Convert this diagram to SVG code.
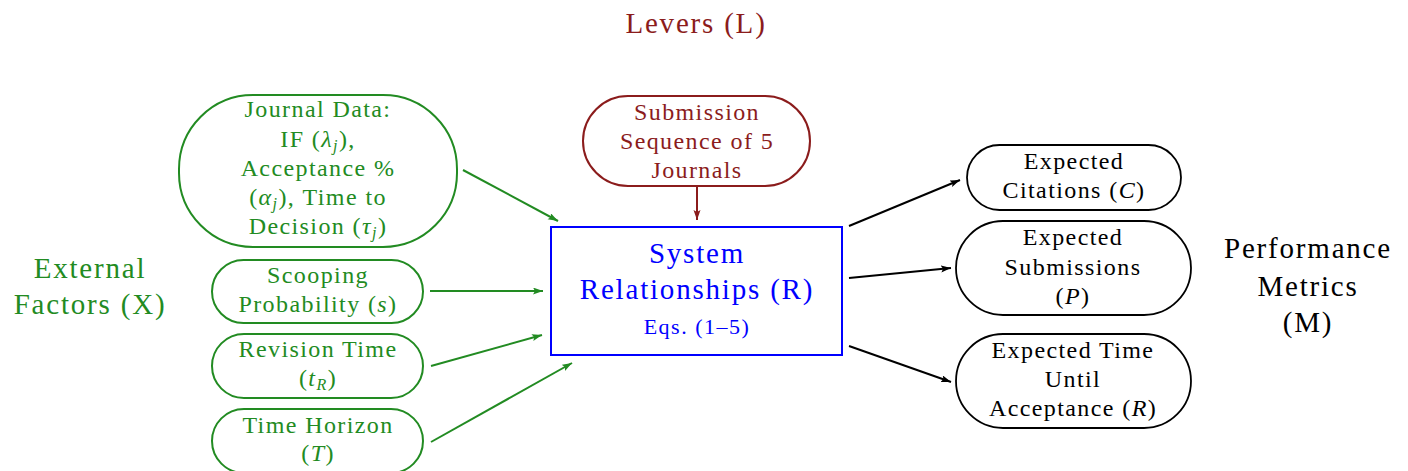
<svg xmlns="http://www.w3.org/2000/svg" width="1408" height="471" viewBox="0 0 1408 471">
<style>
text{font-family:"Liberation Serif","Times New Roman",serif;text-anchor:middle}
.big{font-size:29px;letter-spacing:1.8px}
.nt{font-size:24px;letter-spacing:1.4px}
.eq{font-size:22px;letter-spacing:1.5px}
.g{fill:#228b22}
.r{fill:#8b1c1c}
.b{fill:#0000ff}
.k{fill:#000}
.i{font-style:italic}
.sub{font-size:16px;font-style:italic}
.ng{fill:#fff;stroke:#228b22;stroke-width:2}
.nr{fill:#fff;stroke:#8b1c1c;stroke-width:2}
.nk{fill:#fff;stroke:#000;stroke-width:1.8}
.cg{stroke:#228b22;stroke-width:2;fill:none;marker-end:url(#ag)}
.cr{stroke:#8b1c1c;stroke-width:2;fill:none;marker-end:url(#ar)}
.ck{stroke:#000;stroke-width:2;fill:none;marker-end:url(#ak)}
</style>
<defs>
<marker id="ag" markerUnits="userSpaceOnUse" markerWidth="12" markerHeight="8" refX="10" refY="3.5" orient="auto"><path d="M0,0 L10,3.5 L0,7 L2,3.5 z" fill="#228b22"/></marker>
<marker id="ar" markerUnits="userSpaceOnUse" markerWidth="12" markerHeight="8" refX="10" refY="3.5" orient="auto"><path d="M0,0 L10,3.5 L0,7 L2,3.5 z" fill="#8b1c1c"/></marker>
<marker id="ak" markerUnits="userSpaceOnUse" markerWidth="12" markerHeight="8" refX="10" refY="3.5" orient="auto"><path d="M0,0 L10,3.5 L0,7 L2,3.5 z" fill="#000"/></marker>
</defs>
<rect width="1408" height="471" fill="#fff"/>

<g id="label-levers"><text class="big r" x="696" y="33">Levers (L)</text></g>
<g id="label-external"><text class="big g" x="90" y="278">External</text><text class="big g" x="90" y="314">Factors (X)</text></g>
<g id="label-performance"><text class="big k" x="1308" y="258">Performance</text><text class="big k" x="1308" y="296">Metrics</text><text class="big k" x="1308" y="332">(M)</text></g>

<g id="connectors">
<line class="cg" x1="463" y1="170" x2="558" y2="221"/>
<line class="cg" x1="430" y1="291" x2="543" y2="291"/>
<line class="cg" x1="431" y1="366" x2="542" y2="335"/>
<line class="cg" x1="431" y1="442" x2="572" y2="363"/>
<line class="cr" x1="697" y1="187" x2="697" y2="220"/>
<line class="ck" x1="849" y1="226" x2="960" y2="180"/>
<line class="ck" x1="849" y1="278" x2="951" y2="268"/>
<line class="ck" x1="849" y1="346" x2="951" y2="382"/>
</g>

<g id="node-journal">
<rect class="ng" x="179" y="95" width="278" height="152" rx="74" ry="74"/>
<text class="nt g" x="318" y="117">Journal Data:</text>
<text class="nt g" x="318" y="147">IF (<tspan class="i">λ</tspan><tspan class="sub" dy="4">j</tspan><tspan dy="-4">),</tspan></text>
<text class="nt g" x="318" y="176">Acceptance %</text>
<text class="nt g" x="318" y="205">(<tspan class="i">α</tspan><tspan class="sub" dy="4">j</tspan><tspan dy="-4">), Time to</tspan></text>
<text class="nt g" x="318" y="234">Decision (<tspan class="i">τ</tspan><tspan class="sub" dy="4">j</tspan><tspan dy="-4">)</tspan></text>
</g>

<g id="node-scooping">
<rect class="ng" x="212" y="260" width="211" height="63" rx="31.5" ry="31.5"/>
<text class="nt g" x="318" y="283">Scooping</text>
<text class="nt g" x="318" y="312">Probability (<tspan class="i">s</tspan>)</text>
</g>

<g id="node-revision">
<rect class="ng" x="212" y="334" width="211" height="64" rx="32" ry="32"/>
<text class="nt g" x="318" y="357">Revision Time</text>
<text class="nt g" x="318" y="386">(<tspan class="i">t</tspan><tspan class="sub" dy="4">R</tspan><tspan dy="-4">)</tspan></text>
</g>

<g id="node-horizon">
<rect class="ng" x="212" y="409" width="211" height="64" rx="32" ry="32"/>
<text class="nt g" x="318" y="433">Time Horizon</text>
<text class="nt g" x="318" y="461">(<tspan class="i">T</tspan>)</text>
</g>

<g id="node-submission">
<rect class="nr" x="583" y="96" width="227" height="90" rx="45" ry="45"/>
<text class="nt r" x="697" y="120">Submission</text>
<text class="nt r" x="697" y="149">Sequence of 5</text>
<text class="nt r" x="697" y="178">Journals</text>
</g>

<g id="node-system">
<rect x="551" y="227" width="291" height="128" fill="#fff" stroke="#0000ff" stroke-width="2"/>
<text class="big b" x="697" y="263">System</text>
<text class="big b" x="697" y="299">Relationships (R)</text>
<text class="eq b" x="697" y="334">Eqs. (1–5)</text>
</g>

<g id="node-citations">
<rect class="nk" x="967" y="145" width="214" height="65" rx="32.5" ry="32.5"/>
<text class="nt k" x="1074" y="169">Expected</text>
<text class="nt k" x="1074" y="198">Citations (<tspan class="i">C</tspan>)</text>
</g>

<g id="node-submissions">
<rect class="nk" x="956" y="221" width="235" height="94" rx="47" ry="47"/>
<text class="nt k" x="1073" y="245">Expected</text>
<text class="nt k" x="1073" y="275">Submissions</text>
<text class="nt k" x="1073" y="304">(<tspan class="i">P</tspan>)</text>
</g>

<g id="node-time">
<rect class="nk" x="956" y="334" width="235" height="94" rx="47" ry="47"/>
<text class="nt k" x="1073" y="358">Expected Time</text>
<text class="nt k" x="1073" y="387">Until</text>
<text class="nt k" x="1073" y="416">Acceptance (<tspan class="i">R</tspan>)</text>
</g>
</svg>
